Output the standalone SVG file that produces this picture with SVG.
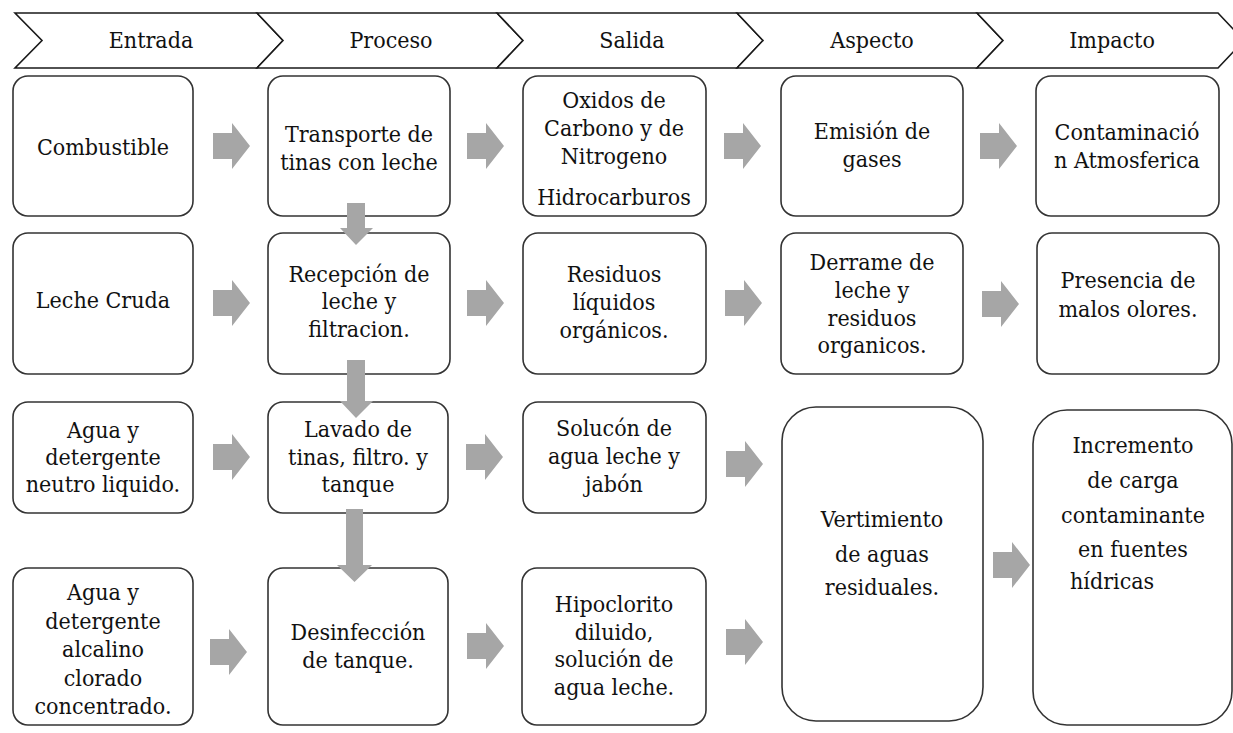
<svg xmlns="http://www.w3.org/2000/svg" width="1233" height="733" viewBox="0 0 1233 733">
<style>
.chev{fill:#fff;stroke:#1a1a1a;stroke-width:1.6}
.box{fill:#fff;stroke:#333;stroke-width:1.6}
text{font-family:'DejaVu Serif Condensed','DejaVu Serif',serif;font-stretch:condensed;font-size:23px;fill:#111}
.t{text-anchor:middle}
.arr{fill:#a6a6a6}
</style>
<rect width="1233" height="733" fill="#fff"/>
<g id="header">
<g id="h-entrada"><path class="chev" d="M15,13 H257 L283,40.5 L257,68 H15 L42,40.5 Z"/><text class="t" x="151" y="48">Entrada</text></g>
<g id="h-proceso"><path class="chev" d="M257,13 H497 L523,40.5 L497,68 H257 L283,40.5 Z"/><text class="t" x="391" y="48">Proceso</text></g>
<g id="h-salida"><path class="chev" d="M497,13 H737 L763,40.5 L737,68 H497 L523,40.5 Z"/><text class="t" x="632" y="48">Salida</text></g>
<g id="h-aspecto"><path class="chev" d="M737,13 H977 L1003,40.5 L977,68 H737 L763,40.5 Z"/><text class="t" x="872" y="48">Aspecto</text></g>
<g id="h-impacto"><path class="chev" d="M977,13 H1218 L1244,40.5 L1218,68 H977 L1003,40.5 Z"/><text class="t" x="1112" y="48">Impacto</text></g>
</g>
<g id="nodes">
<g id="n-combustible"><rect class="box" x="13" y="76" width="180" height="140" rx="15"/><text class="t" x="103" y="155">Combustible</text></g>
<g id="n-transporte"><rect class="box" x="268" y="76" width="182" height="140" rx="15"/><text class="t" x="359"><tspan x="359" y="142">Transporte de</tspan><tspan x="359" y="170">tinas con leche</tspan></text></g>
<g id="n-oxidos"><rect class="box" x="523" y="76" width="183" height="140" rx="15"/><text class="t"><tspan x="614" y="108">Oxidos de</tspan><tspan x="614" y="136">Carbono y de</tspan><tspan x="614" y="164">Nitrogeno</tspan><tspan x="614" y="205">Hidrocarburos</tspan></text></g>
<g id="n-emision"><rect class="box" x="781" y="76" width="182" height="140" rx="15"/><text class="t"><tspan x="872" y="139">Emisión de</tspan><tspan x="872" y="167">gases</tspan></text></g>
<g id="n-contaminacion"><rect class="box" x="1036" y="76" width="183" height="140" rx="15"/><text class="t"><tspan x="1127" y="140">Contaminació</tspan><tspan x="1127" y="168">n Atmosferica</tspan></text></g>
<g id="n-leche"><rect class="box" x="13" y="233" width="180" height="141" rx="15"/><text class="t" x="103" y="308">Leche Cruda</text></g>
<g id="n-recepcion"><rect class="box" x="268" y="233" width="182" height="141" rx="15"/><text class="t"><tspan x="359" y="282">Recepción de</tspan><tspan x="359" y="309">leche y</tspan><tspan x="359" y="337">filtracion.</tspan></text></g>
<g id="n-residuos"><rect class="box" x="523" y="233" width="183" height="141" rx="15"/><text class="t"><tspan x="614" y="282">Residuos</tspan><tspan x="614" y="310">líquidos</tspan><tspan x="614" y="338">orgánicos.</tspan></text></g>
<g id="n-derrame"><rect class="box" x="781" y="233" width="182" height="141" rx="15"/><text class="t"><tspan x="872" y="270">Derrame de</tspan><tspan x="872" y="298">leche y</tspan><tspan x="872" y="326">residuos</tspan><tspan x="872" y="353">organicos.</tspan></text></g>
<g id="n-presencia"><rect class="box" x="1037" y="233" width="182" height="141" rx="15"/><text class="t"><tspan x="1128" y="288">Presencia de</tspan><tspan x="1128" y="317">malos olores.</tspan></text></g>
<g id="n-agua-neutro"><rect class="box" x="13" y="402" width="180" height="111" rx="15"/><text class="t"><tspan x="103" y="438">Agua y</tspan><tspan x="103" y="465">detergente</tspan><tspan x="103" y="492">neutro liquido.</tspan></text></g>
<g id="n-lavado"><rect class="box" x="268" y="402" width="180" height="111" rx="15"/><text class="t"><tspan x="358" y="437">Lavado de</tspan><tspan x="358" y="465">tinas, filtro. y</tspan><tspan x="358" y="492">tanque</tspan></text></g>
<g id="n-solucion"><rect class="box" x="523" y="402" width="183" height="111" rx="15"/><text class="t"><tspan x="614" y="436">Solucón de</tspan><tspan x="614" y="464">agua leche y</tspan><tspan x="614" y="492">jabón</tspan></text></g>
<g id="n-agua-alcalino"><rect class="box" x="13" y="568" width="180" height="157" rx="15"/><text class="t"><tspan x="103" y="600">Agua y</tspan><tspan x="103" y="629">detergente</tspan><tspan x="103" y="657">alcalino</tspan><tspan x="103" y="686">clorado</tspan><tspan x="103" y="714">concentrado.</tspan></text></g>
<g id="n-desinfeccion"><rect class="box" x="268" y="568" width="180" height="157" rx="15"/><text class="t"><tspan x="358" y="640">Desinfección</tspan><tspan x="358" y="668">de tanque.</tspan></text></g>
<g id="n-hipoclorito"><rect class="box" x="522" y="568" width="184" height="157" rx="15"/><text class="t"><tspan x="614" y="612">Hipoclorito</tspan><tspan x="614" y="640">diluido,</tspan><tspan x="614" y="667">solución de</tspan><tspan x="614" y="695">agua leche.</tspan></text></g>
<g id="n-vertimiento"><rect class="box" x="782" y="407" width="201" height="314" rx="34"/><text class="t"><tspan x="882" y="527">Vertimiento</tspan><tspan x="882" y="562">de aguas</tspan><tspan x="882" y="595">residuales.</tspan></text></g>
<g id="n-incremento"><rect class="box" x="1033" y="410" width="199" height="315" rx="34"/><text class="t"><tspan x="1133" y="453">Incremento</tspan><tspan x="1133" y="488">de carga</tspan><tspan x="1133" y="523">contaminante</tspan><tspan x="1133" y="557">en fuentes</tspan></text><text x="1070" y="589">hídricas</text></g>
</g>
<g id="connectors" class="arr">
<path d="M213,133 h19 v-10 l18,23 l-18,23 v-10 h-19 Z"/>
<path d="M467,133 h19 v-10 l18,23 l-18,23 v-10 h-19 Z"/>
<path d="M724,133 h19 v-10 l18,23 l-18,23 v-10 h-19 Z"/>
<path d="M980,133 h19 v-10 l18,23 l-18,23 v-10 h-19 Z"/>
<path d="M213,290 h19 v-10 l18,23 l-18,23 v-10 h-19 Z"/>
<path d="M467,290 h19 v-10 l18,23 l-18,23 v-10 h-19 Z"/>
<path d="M725,290 h19 v-10 l18,23 l-18,23 v-10 h-19 Z"/>
<path d="M982,291 h19 v-10 l18,23 l-18,23 v-10 h-19 Z"/>
<path d="M213,444 h19 v-10 l18,23 l-18,23 v-10 h-19 Z"/>
<path d="M466,444 h19 v-10 l18,23 l-18,23 v-10 h-19 Z"/>
<path d="M726,451 h19 v-10 l18,23 l-18,23 v-10 h-19 Z"/>
<path d="M210,639 h19 v-10 l18,23 l-18,23 v-10 h-19 Z"/>
<path d="M467,633 h19 v-10 l18,23 l-18,23 v-10 h-19 Z"/>
<path d="M726,629 h19 v-10 l18,23 l-18,23 v-10 h-19 Z"/>
<path d="M993,552 h19 v-10 l18,23 l-18,23 v-10 h-19 Z"/>
<path d="M347,203 H365 V228 H373 L356,245 L340,228 H347 Z"/>
<path d="M347,360 H365 V401 H373 L356,418 L340,401 H347 Z"/>
<path d="M346,509 H363 V565 H372 L354.5,582 L337,565 H346 Z"/>
</g>
</svg>
